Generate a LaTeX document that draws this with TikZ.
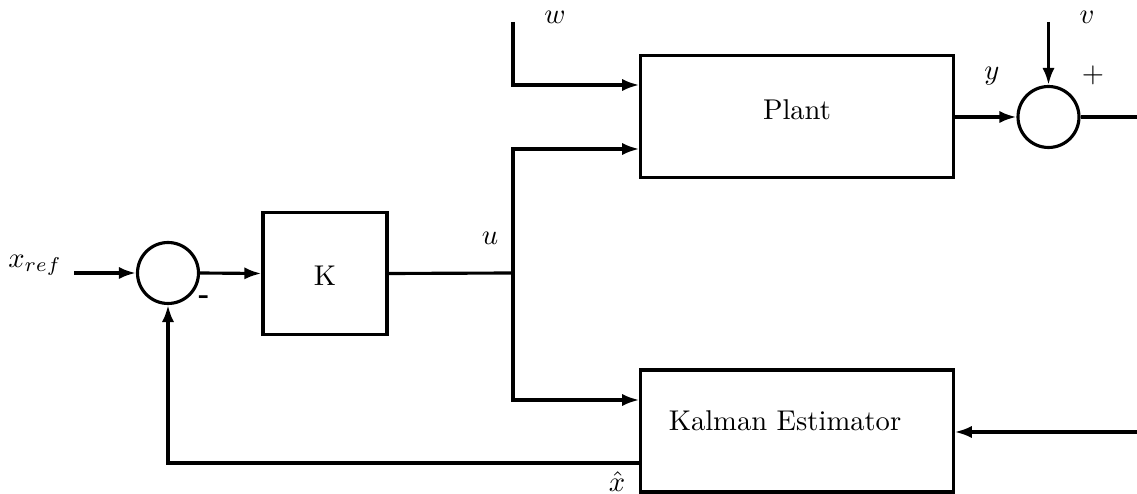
\documentclass[tikz,border=0pt]{standalone}
\usetikzlibrary{arrows.meta}
\begin{document}
\begin{tikzpicture}[x=0.0123cm,y=-0.0123cm,
  line width=1.1pt,
  >={Latex[length=2.1mm,width=1.5mm]},
  block/.style={draw,rectangle,inner sep=0pt},
  sumnode/.style={draw,circle,inner sep=0pt,minimum size=0.75cm},
  lbl/.style={inner sep=0pt}]
\useasboundingbox (0,0) rectangle (1137,494);

% blocks and summing junctions
\node[block,minimum width=3.84cm,minimum height=1.51cm] (plant) at (797,116.5) {};
\node[lbl] (plantt) at (797,110) {Plant};
\node[block,minimum width=1.525cm,minimum height=1.51cm] (K) at (325,273.5) {};
\node[lbl] (Kt) at (325,276) {K};
\node[block,minimum width=3.84cm,minimum height=1.5cm] (kal) at (797,431) {};
\node[lbl] (kalt) at (785,421) {Kalman Estimator};
\node[sumnode] (s1) at (168,273) {};
\node[sumnode] (s2) at (1048.5,117) {};

% free ends and bends
\coordinate (xin) at (74,273);
\coordinate (uj) at (513,273);
\coordinate (ut) at (513,149);
\coordinate (ub) at (513,400);
\coordinate (wtop) at (513,22);
\coordinate (wc) at (513,85);
\coordinate (vtop) at (1048.5,22);
\coordinate (yout) at (1137,117);
\coordinate (kin) at (1137,432);
\coordinate (fb) at (641,463);

% connectors
\draw[->] (xin) -- (s1.west);
\draw[->] (s1.east) -- (K.west);
\draw (K.east) -- (uj);
\draw[->] (uj) -- (ut) -- (ut -| plant.west);
\draw[->] (uj) -- (ub) -- (ub -| kal.west);
\draw[->] (wtop) -- (wc) -- (wc -| plant.west);
\draw[->] (plant.east |- s2) -- (s2.west);
\draw[->] (vtop) -- (s2.north);
\draw (s2.east) -- (yout);
\draw[->] (kin) -- (kin -| kal.east);
\draw[->] (fb) -| (s1.south);

% signal labels
\node[lbl] (lxref) at (35,265) {$x_{ref}$};
\node[lbl] (lw) at (555,17) {$w$};
\node[lbl] (lu) at (490,238) {$u$};
\node[lbl] (ly) at (992,76) {$y$};
\node[lbl] (lv) at (1087,17) {$v$};
\node[lbl] (lplus) at (1093,75) {$+$};
\node[lbl] (lminus) at (204,300) {\textbf{-}};
\node[lbl,anchor=south] (lxhat) at (617,493) {$\hat{x}$};
\end{tikzpicture}
\end{document}
